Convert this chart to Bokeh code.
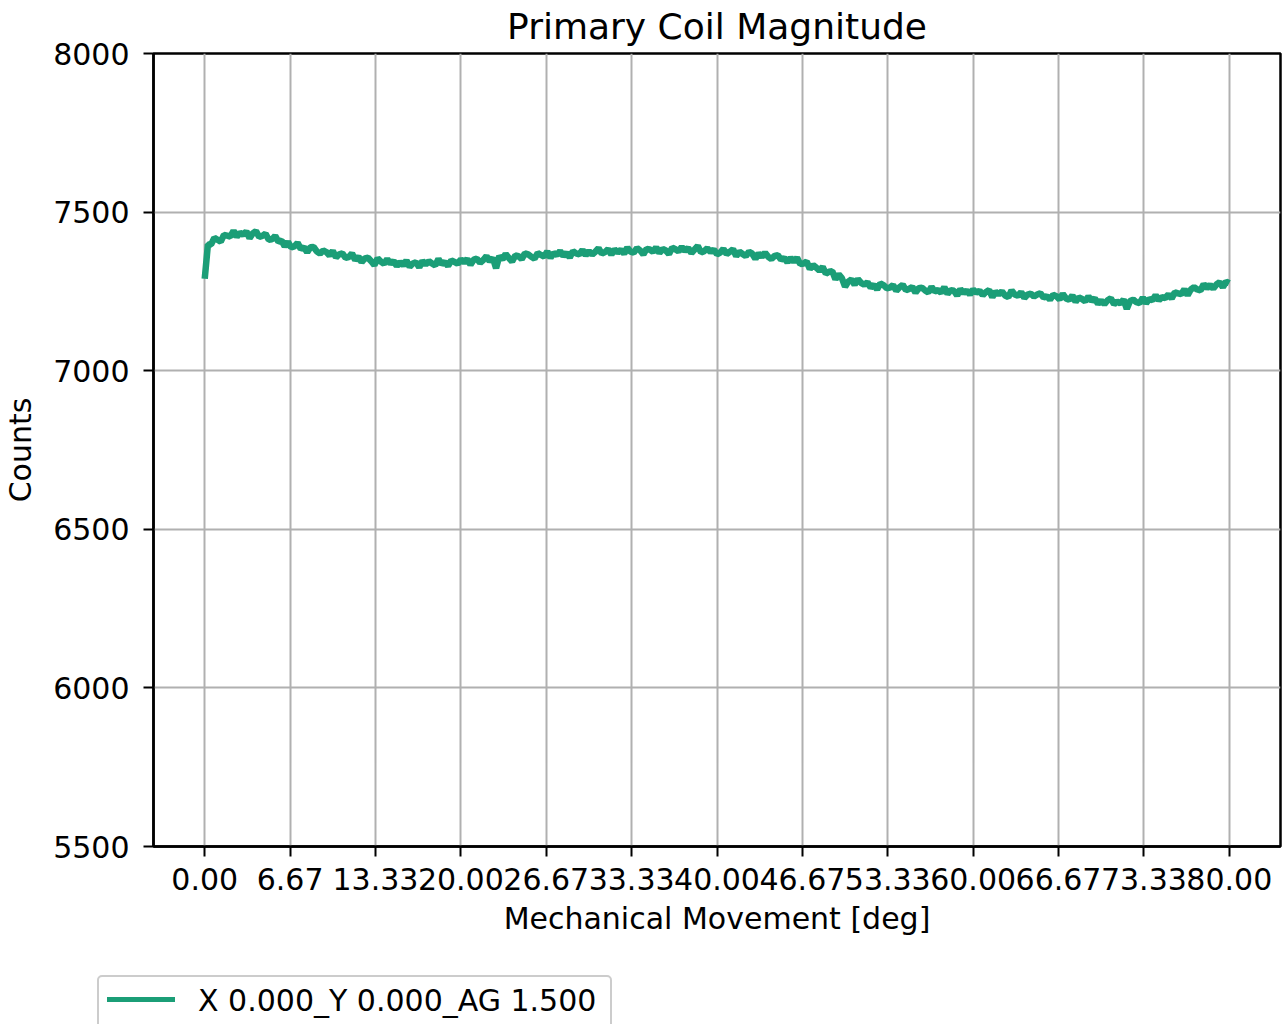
from bokeh.plotting import figure
from bokeh.models import FixedTicker, Div
from bokeh.layouts import column
from bokeh.embed import file_html
from bokeh.resources import INLINE

# ---- data ----
x_deg = [0.0] + [0.25 * i for i in range(1, 321)]
counts = [7290,
    7398, 7398, 7419, 7413, 7407, 7428, 7426, 7423, 7441, 7422, 7435, 7429,
    7439, 7418, 7433, 7440, 7422, 7425, 7432, 7413, 7414, 7425, 7407, 7410,
    7392, 7406, 7389, 7392, 7403, 7384, 7389, 7373, 7389, 7390, 7376, 7369,
    7379, 7374, 7363, 7378, 7357, 7367, 7370, 7356, 7358, 7370, 7349, 7360,
    7342, 7354, 7356, 7345, 7333, 7354, 7344, 7337, 7352, 7338, 7346, 7330,
    7343, 7332, 7347, 7328, 7338, 7342, 7326, 7346, 7335, 7345, 7338, 7332,
    7352, 7336, 7343, 7330, 7348, 7343, 7337, 7351, 7341, 7352, 7334, 7350,
    7353, 7340, 7349, 7361, 7345, 7355, 7323, 7361, 7351, 7368, 7355, 7344,
    7363, 7361, 7352, 7370, 7367, 7359, 7353, 7371, 7365, 7360, 7376, 7356,
    7371, 7365, 7377, 7362, 7372, 7357, 7377, 7370, 7367, 7381, 7364, 7377,
    7366, 7375, 7386, 7369, 7374, 7383, 7366, 7382, 7373, 7381, 7369, 7388,
    7375, 7372, 7387, 7379, 7367, 7384, 7382, 7375, 7389, 7371, 7384, 7379,
    7368, 7388, 7383, 7376, 7390, 7378, 7387, 7371, 7382, 7393, 7373, 7377,
    7386, 7374, 7382, 7367, 7372, 7384, 7368, 7375, 7383, 7361, 7375, 7368,
    7361, 7375, 7369, 7353, 7370, 7359, 7372, 7359, 7352, 7362, 7364, 7350,
    7355, 7342, 7356, 7344, 7356, 7336, 7338, 7344, 7321, 7333, 7325, 7316,
    7327, 7306, 7312, 7314, 7288, 7304, 7292, 7265, 7281, 7288, 7271, 7289,
    7277, 7271, 7279, 7262, 7271, 7256, 7275, 7270, 7260, 7262, 7270, 7252,
    7263, 7271, 7254, 7258, 7264, 7246, 7260, 7262, 7253, 7247, 7264, 7250,
    7254, 7246, 7263, 7242, 7254, 7252, 7237, 7257, 7245, 7253, 7240, 7256,
    7246, 7252, 7238, 7248, 7254, 7232, 7249, 7241, 7250, 7237, 7232, 7253,
    7240, 7236, 7248, 7229, 7240, 7243, 7234, 7240, 7244, 7231, 7235, 7224,
    7239, 7235, 7225, 7242, 7228, 7224, 7237, 7217, 7231, 7226, 7219, 7234,
    7220, 7228, 7211, 7221, 7210, 7222, 7228, 7210, 7218, 7212, 7224, 7195,
    7220, 7224, 7216, 7213, 7230, 7213, 7226, 7222, 7238, 7222, 7232, 7229,
    7240, 7228, 7247, 7244, 7241, 7257, 7238, 7256, 7263, 7256, 7253, 7273,
    7260, 7271, 7259, 7272, 7279, 7263, 7281, 7276]
series_name = "X 0.000_Y 0.000_AG 1.500"

x_ticks = [0.0, 80/12, 160/12, 20.0, 320/12, 400/12, 40.0, 560/12, 640/12, 60.0, 800/12, 880/12, 80.0]
x_tick_labels = ["0.00", "6.67", "13.33", "20.00", "26.67", "33.33", "40.00",
                 "46.67", "53.33", "60.00", "66.67", "73.33", "80.00"]
y_ticks = [5500, 6000, 6500, 7000, 7500, 8000]

FONT = "DejaVu Sans"
GREEN = "#1b9e77"

p = figure(width=1285, height=960, output_backend="svg", toolbar_location=None,
           x_range=(-4, 84), y_range=(5500, 8000),
           min_border_left=153, min_border_right=5, min_border_top=53, min_border_bottom=114,
           title="Primary Coil Magnitude")

p.title.text_font = FONT
p.title.text_font_size = "36px"
p.title.text_font_style = "normal"
p.title.align = "center"
p.title.vertical_align = "top"
p.title.text_color = "black"
p.title.standoff = 10

p.line(x_deg, counts, color=GREEN, line_width=6.5)

p.xaxis.ticker = FixedTicker(ticks=x_ticks)
p.xaxis.major_label_overrides = {t: l for t, l in zip(x_ticks, x_tick_labels)}
p.yaxis.ticker = FixedTicker(ticks=y_ticks)
p.xaxis.axis_label = "Mechanical Movement [deg]"
p.yaxis.axis_label = "Counts"

for ax in (p.xaxis[0], p.yaxis[0]):
    ax.axis_label_text_font = FONT
    ax.axis_label_text_font_size = "30px"
    ax.axis_label_text_font_style = "normal"
    ax.axis_label_text_color = "black"
    ax.major_label_text_font = FONT
    ax.major_label_text_font_size = "30px"
    ax.major_label_text_color = "black"
    ax.axis_line_color = "black"
    ax.axis_line_width = 2.5
    ax.major_tick_line_color = "black"
    ax.major_tick_line_width = 2
    ax.major_tick_out = 10
    ax.major_tick_in = 0
    ax.minor_tick_line_color = None
p.xaxis.major_label_standoff = 11
p.xaxis.axis_label_standoff = 8
p.yaxis.major_label_standoff = 14
p.yaxis.axis_label_standoff = 12

p.xgrid.grid_line_color = "#b0b0b0"
p.ygrid.grid_line_color = "#b0b0b0"
p.xgrid.grid_line_width = 2
p.ygrid.grid_line_width = 2

p.outline_line_color = "black"
p.outline_line_width = 2.5
p.outline_line_alpha = 1.0
p.background_fill_color = "white"
p.border_fill_color = "white"

# legend strip below the plot (the reference's legend sits outside the axes, cut by the edge)
legend_html = (
    '<div style="position:relative;width:1285px;height:64px;overflow:hidden;background:white;">'
    '<div style="position:absolute;left:97px;top:15px;width:515px;height:62px;box-sizing:border-box;'
    'border:2px solid #cccccc;border-radius:5px;background:white;">'
    '<span style="position:absolute;left:8px;top:20px;width:68px;height:5px;background:%s;"></span>'
    '<span style="position:absolute;left:99px;top:6px;white-space:nowrap;font-family:\'DejaVu Sans\';'
    'font-size:30px;line-height:36px;color:black;">%s</span>'
    '</div></div>' % (GREEN, series_name)
)
legend_div = Div(text=legend_html, width=1285, height=64, margin=0)

layout = column(p, legend_div, spacing=0)
open("out.html", "w").write(file_html(layout, INLINE))
